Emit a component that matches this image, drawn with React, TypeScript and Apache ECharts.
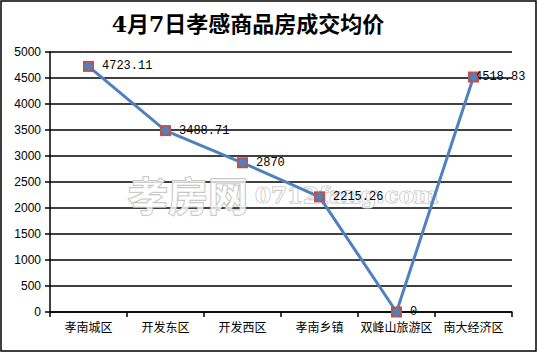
import React, { useEffect, useRef } from "react";
import * as echarts from "echarts";

const categories = ["孝南城区", "开发东区", "开发西区", "孝南乡镇", "双峰山旅游区", "南大经济区"];
const prices = [4723.11, 3488.71, 2870, 2215.26, 0, 4518.83];
const yTicks = { min: 0, max: 5000, interval: 500 };
const titleText = "4月7日孝感商品房成交均价";

export default function App() {
  const ref = useRef<HTMLDivElement>(null);
  useEffect(() => {
    document.body.style.margin = "0";
    const chart = echarts.init(ref.current!, null, { renderer: "svg" });
    const labelFont = { fontFamily: "Liberation Mono, DejaVu Sans Mono, monospace", fontSize: 12, color: "#000" };
    chart.setOption({
      animation: false,
      backgroundColor: "#fff",
      title: {
        text: titleText,
        left: 243,
        top: 8,
        textAlign: "center",
        textStyle: { fontFamily: "DejaVu Serif, Noto Sans CJK SC", fontWeight: "bold", fontSize: 22, color: "#000" },
      },
      graphic: [
        {
          type: "rect",
          shape: { x: 1, y: 1, width: 535, height: 350 },
          style: { fill: "none", stroke: "#000", lineWidth: 1.5 },
          z: 100,
        },
        {
          type: "text",
          x: 128,
          y: 174,
          z: 5,
          style: {
            text: "孝房网",
            font: "bold 40px 'Noto Sans CJK SC'",
            fill: "rgba(255,255,255,0.75)",
            stroke: "#bdbdbd",
            lineWidth: 1.5,
          },
        },
        {
          type: "text",
          x: 255,
          y: 183,
          z: 5,
          style: {
            text: "0712fang.com",
            font: "bold 23px 'DejaVu Serif'",
            fill: "rgba(255,255,255,0.75)",
            stroke: "#bdbdbd",
            lineWidth: 1.2,
          },
        },
      ],
      grid: { left: 50, right: 25, top: 52, bottom: 40, containLabel: false },
      xAxis: {
        type: "category",
        data: categories,
        boundaryGap: true,
        axisLine: { lineStyle: { color: "#000", width: 1.5 } },
        axisTick: { show: true, length: 5, lineStyle: { color: "#000", width: 1.5 } },
        axisLabel: { fontFamily: "Noto Sans CJK SC", fontSize: 12, color: "#000", margin: 8, interval: 0 },
      },
      yAxis: {
        type: "value",
        min: yTicks.min,
        max: yTicks.max,
        interval: yTicks.interval,
        axisLine: { show: true, lineStyle: { color: "#000", width: 1.5 } },
        axisTick: { show: true, length: 5, lineStyle: { color: "#000", width: 1.5 } },
        axisLabel: {
          fontFamily: "Liberation Sans, Arial",
          fontSize: 12,
          color: "#000",
          margin: 9,
          formatter: (v: number) => String(v),
        },
        splitLine: { show: true, lineStyle: { color: "#000", width: 1.5 } },
      },
      series: [
        {
          type: "line",
          data: prices,
          symbol: "rect",
          symbolSize: 11,
          itemStyle: { color: "#C0504D" },
          lineStyle: { color: "#4F81BD", width: 3 },
          z: 10,
          label: {
            show: true,
            position: "right",
            distance: 8,
            ...labelFont,
            formatter: (p: any) => String(p.value),
          },
          labelLayout: (params: any) =>
            params.dataIndex === prices.length - 1 ? { dx: -12 } : {},
        },
        {
          type: "line",
          data: prices,
          symbol: "diamond",
          symbolSize: 10,
          itemStyle: { color: "#4F81BD" },
          lineStyle: { width: 0, opacity: 0 },
          z: 11,
          silent: true,
        },
      ],
    });
    return () => chart.dispose();
  }, []);
  return <div ref={ref} style={{ width: 537, height: 352 }} />;
}
